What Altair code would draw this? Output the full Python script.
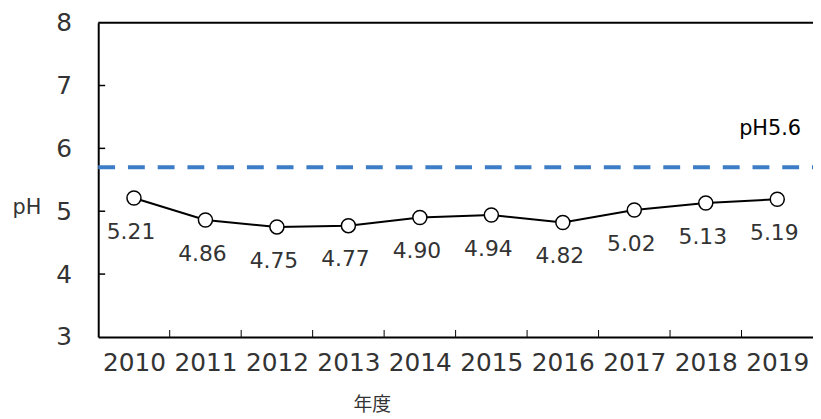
import altair as alt
import pandas as pd

years = [2010, 2011, 2012, 2013, 2014, 2015, 2016, 2017, 2018, 2019]
ph_values = [5.21, 4.86, 4.75, 4.77, 4.90, 4.94, 4.82, 5.02, 5.13, 5.19]
y_ticks = [3, 4, 5, 6, 7, 8]
ref_value = 5.7
ref_label = "pH5.6"
x_title = "年度"
y_title = "pH"

W, H = 721, 317
FONT = "DejaVu Sans"
TXT = "#333333"

df = pd.DataFrame({"year": years, "ph": ph_values,
                   "label": [f"{v:.2f}" for v in ph_values]})
bounds = pd.DataFrame({"year": [y + 0.5 for y in years[:-1]]})
ytk = pd.DataFrame({"ph": y_ticks[1:-1]})
ref = pd.DataFrame({"ph": [ref_value], "year": [years[-1]], "label": [ref_label]})
one = pd.DataFrame({"a": [0]})

xscale = alt.Scale(domain=[years[0] - 0.5, years[-1] + 0.5], nice=False, zero=False)
yscale = alt.Scale(domain=[y_ticks[0], y_ticks[-1]], nice=False, zero=False)

x_axis = alt.Axis(values=years, format="d", title=x_title, grid=False, ticks=False,
                  tickSize=0, domainColor="black", domainWidth=2,
                  labelFont=FONT, labelFontSize=25, labelColor=TXT,
                  labelBaseline="middle", labelPadding=26, labelFlush=False,
                  titleFont="Noto Sans CJK JP", titleFontSize=19, titleFontWeight="normal",
                  titleColor=TXT, titleX=276, titleY=68, titleAlign="center",
                  titleBaseline="middle")
y_axis = alt.Axis(values=y_ticks, title=y_title, grid=False, ticks=False, tickSize=0,
                  domainColor="black", domainWidth=2,
                  labelFont=FONT, labelFontSize=25, labelColor=TXT,
                  labelBaseline="middle", labelPadding=27, labelFlush=False,
                  titleFont=FONT, titleFontSize=21, titleFontWeight="normal",
                  titleColor=TXT, titleAngle=0, titleX=-87, titleY=186,
                  titleAlign="left", titleBaseline="middle")

X = alt.X("year:Q", scale=xscale, axis=x_axis)
Y = alt.Y("ph:Q", scale=yscale, axis=y_axis)

line = alt.Chart(df).mark_line(color="black", strokeWidth=2).encode(x=X, y=Y)
points = alt.Chart(df).mark_point(filled=True, fill="white", stroke="black",
                                  strokeWidth=1.5, size=200, opacity=1).encode(x=X, y=Y)
labels = alt.Chart(df).mark_text(font=FONT, fontSize=22, color=TXT, dy=34, dx=-3,
                                 baseline="middle", align="center").encode(
    x=X, y=Y, text="label:N")
ref_line = alt.Chart(ref).mark_rule(color="#3d7cc6", strokeWidth=4,
                                    strokeDash=[17, 13]).encode(
    y=Y, x=alt.value(0), x2=alt.value(W))
ref_text = alt.Chart(ref).mark_text(font=FONT, fontSize=21, color="black",
                                    align="right", baseline="middle", dx=24, dy=-38).encode(
    x=X, y=Y, text="label:N")
top_border = alt.Chart(one).mark_rule(color="black", strokeWidth=2).encode(
    x=alt.value(0), x2=alt.value(W), y=alt.value(0))
x_ticks = alt.Chart(bounds).mark_rule(color="black", strokeWidth=1).encode(
    x=X, y=alt.value(H), y2=alt.value(H - 7))
y_ticks_marks = alt.Chart(ytk).mark_rule(color="black", strokeWidth=1.5).encode(
    y=Y, x=alt.value(0), x2=alt.value(7))

chart = alt.layer(line, ref_line, top_border, x_ticks, y_ticks_marks, points,
                  labels, ref_text).properties(
    width=W, height=H,
    autosize=alt.AutoSizeParams(type="none"),
    padding={"left": 91, "top": 13, "right": 0, "bottom": 81},
).configure_view(stroke=None)

chart.save("out.html", embed_options={"renderer": "svg", "actions": False})
